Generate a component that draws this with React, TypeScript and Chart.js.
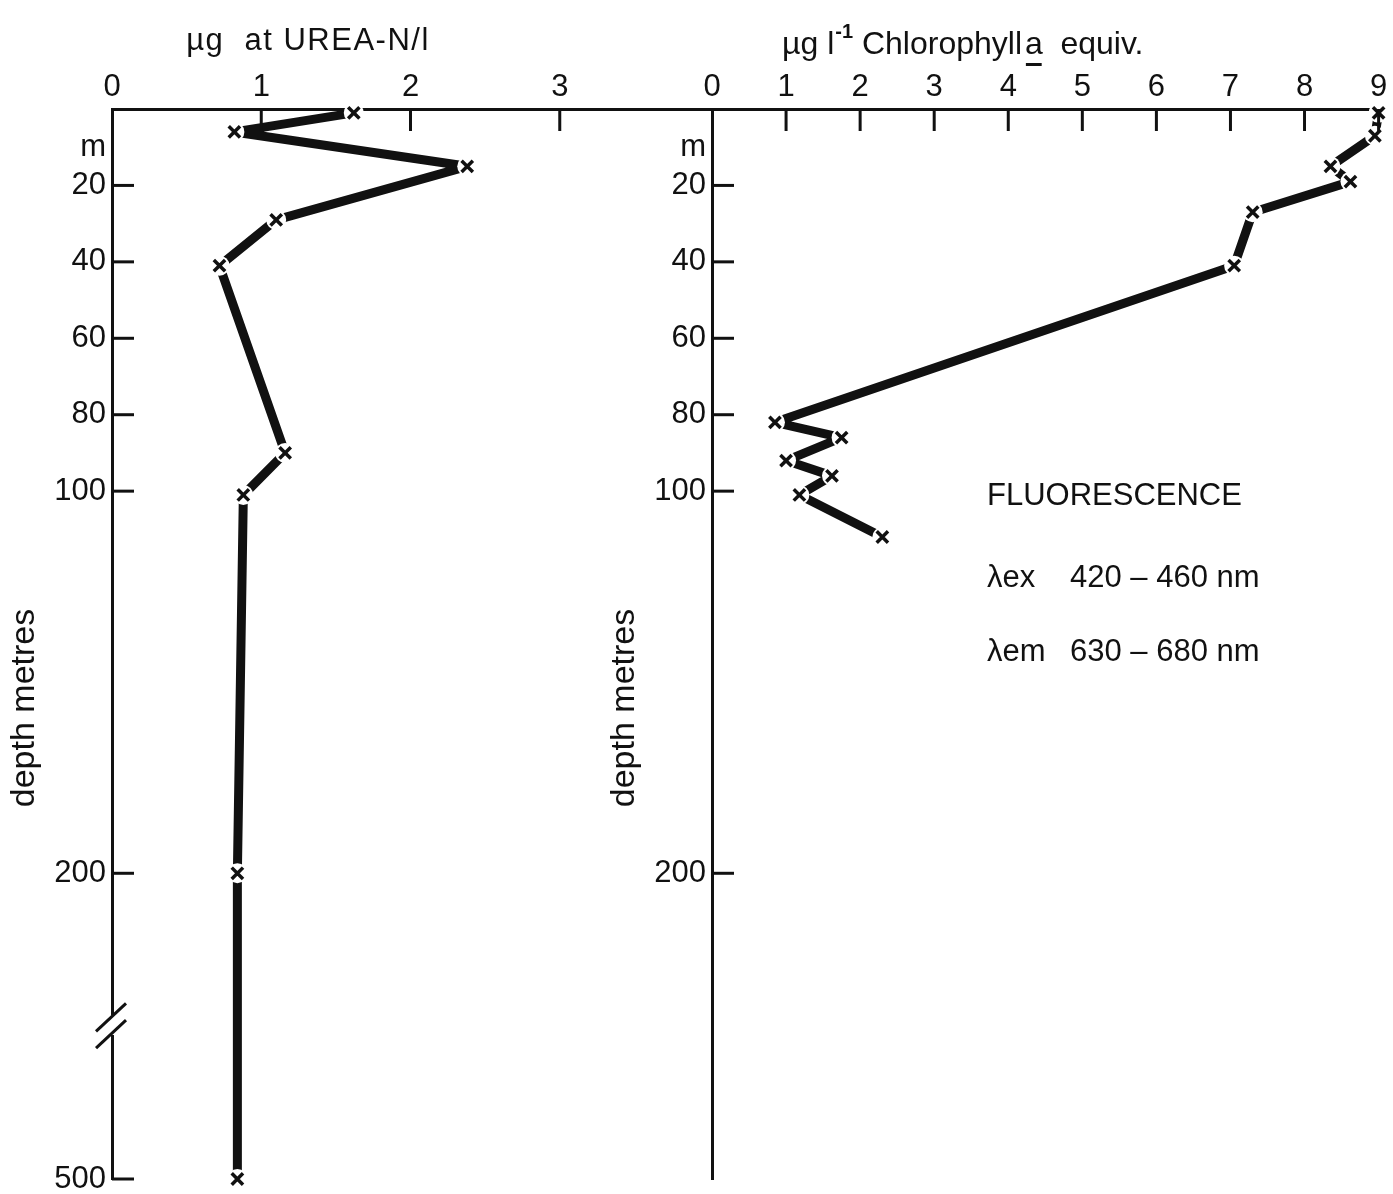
import React, { useEffect, useRef } from "react";
import { Chart, registerables } from "chart.js";

Chart.register(...registerables);

// ---------------- data ----------------
const UREA_DEPTHS = [1, 6, 15, 29, 41, 90, 101, 200, 500];
const UREA_VALUES = [1.62, 0.82, 2.38, 1.1, 0.72, 1.16, 0.88, 0.84, 0.84];

const CHL_DEPTHS = [1, 7, 15, 19, 27, 41, 82, 86, 92, 96, 101, 112];
const CHL_VALUES = [9.0, 8.95, 8.35, 8.62, 7.3, 7.05, 0.85, 1.75, 1.0, 1.62, 1.18, 2.3];

const UREA_X_TICKS = [0, 1, 2, 3];
const CHL_X_TICKS = [0, 1, 2, 3, 4, 5, 6, 7, 8, 9];

const UREA_DEPTH_TICKS = [10, 20, 40, 60, 80, 100, 200, 500];
const UREA_DEPTH_LABELS = ["m", "20", "40", "60", "80", "100", "200", "500"];
const CHL_DEPTH_TICKS = [10, 20, 40, 60, 80, 100, 200];
const CHL_DEPTH_LABELS = ["m", "20", "40", "60", "80", "100", "200"];

const UREA_TITLE = "µg  at UREA-N/l";
const CHL_TITLE_PARTS = ["µg l", "-1", " Chlorophyll ", "a", "  equiv."];
const DEPTH_TITLE = "depth metres";
const FLUOR_HEAD = "FLUORESCENCE";
const FLUOR_LABELS = ["λex", "λem"];
const FLUOR_RANGES = ["420 – 460 nm", "630 – 680 nm"];

// depth axis with a break: 240 m .. 500 m compressed
const BREAK_DEPTH = 240;
const DEEP_DEPTH = 500;
const DEEP_AXIS = 280;
const toAxis = (d: number) =>
  d <= BREAK_DEPTH ? d : BREAK_DEPTH + ((d - BREAK_DEPTH) * (DEEP_AXIS - BREAK_DEPTH)) / (DEEP_DEPTH - BREAK_DEPTH);

// ---------------- style ----------------
const INK = "#111111";
const FONT = "'Liberation Sans', Arial, Helvetica, sans-serif";
const TICK_LEN = 22;
const TOP = 109;
const LEFT = 112;

type Cfg = {
  values: number[];
  depths: number[];
  xMax: number;
  xTicks: number[];
  depthTicks: number[];
  depthLabels: string[];
  padRight: number;
  drawBreak: boolean;
  drawText: (ctx: CanvasRenderingContext2D, area: any) => void;
};

function decorPlugin(cfg: Cfg) {
  return {
    id: "decor",
    afterDraw(chart: any) {
      const ctx: CanvasRenderingContext2D = chart.ctx;
      const xs = chart.scales.x;
      const ys = chart.scales.y;
      const a = chart.chartArea;
      ctx.save();
      ctx.strokeStyle = INK;
      ctx.lineWidth = 3;
      ctx.lineCap = "butt";
      cfg.xTicks.forEach((v) => {
        if (v === 0) return;
        const px = xs.getPixelForValue(v);
        ctx.beginPath();
        ctx.moveTo(px, a.top);
        ctx.lineTo(px, a.top + TICK_LEN);
        ctx.stroke();
      });
      cfg.depthTicks.forEach((d, i) => {
        if (cfg.depthLabels[i] === "m") return;
        const py = ys.getPixelForValue(toAxis(d));
        ctx.beginPath();
        ctx.moveTo(a.left, py);
        ctx.lineTo(a.left + TICK_LEN, py);
        ctx.stroke();
      });
      if (cfg.drawBreak) {
        const g1 = ys.getPixelForValue(BREAK_DEPTH - 3);
        const g2 = ys.getPixelForValue(BREAK_DEPTH + 2.3);
        ctx.clearRect(a.left - 5, g1, 10, g2 - g1);
        const c1 = ys.getPixelForValue(BREAK_DEPTH - 2.3);
        const c2 = ys.getPixelForValue(BREAK_DEPTH + 2.1);
        [c1, c2].forEach((c) => {
          ctx.beginPath();
          ctx.moveTo(a.left - 16, c + 14);
          ctx.lineTo(a.left + 14, c - 14);
          ctx.stroke();
        });
      }
      ctx.fillStyle = INK;
      // depth title
      ctx.save();
      ctx.font = `34px ${FONT}`;
      ctx.textAlign = "center";
      ctx.textBaseline = "middle";
      ctx.translate(25, 708);
      ctx.rotate(-Math.PI / 2);
      ctx.fillText(DEPTH_TITLE, 0, 0);
      ctx.restore();
      cfg.drawText(ctx, a);
      ctx.restore();
    },
  };
}

function buildChart(canvas: HTMLCanvasElement, cfg: Cfg) {
  const pts = cfg.values.map((v, i) => ({ x: v, y: toAxis(cfg.depths[i]) }));
  const tickFont = { family: FONT, size: 31 };
  return new Chart(canvas, {
    type: "scatter",
    data: {
      datasets: [
        {
          data: pts,
          showLine: true,
          borderColor: INK,
          borderWidth: 9,
          pointRadius: 0,
          tension: 0,
          clip: false,
          order: 3,
          borderJoinStyle: "round",
          borderCapStyle: "butt",
        } as any,
        {
          data: pts,
          showLine: false,
          pointRadius: 10,
          pointStyle: "circle",
          pointBackgroundColor: "#ffffff",
          pointBorderWidth: 0,
          clip: false,
          order: 2,
        } as any,
        {
          data: pts,
          showLine: false,
          pointRadius: 8,
          pointStyle: "crossRot",
          pointBorderColor: INK,
          pointBackgroundColor: INK,
          pointBorderWidth: 3.5,
          clip: false,
          order: 1,
        } as any,
      ],
    },
    options: {
      animation: false,
      responsive: false,
      maintainAspectRatio: false,
      events: [],
      layout: { autoPadding: false, padding: { left: 0, top: 0, right: cfg.padRight, bottom: 15 } } as any,
      plugins: { legend: { display: false }, tooltip: { enabled: false }, title: { display: false } },
      scales: {
        x: {
          type: "linear",
          position: "top",
          min: 0,
          max: cfg.xMax,
          z: 1,
          afterBuildTicks: (s: any) => {
            s.ticks = cfg.xTicks.map((v) => ({ value: v }));
          },
          afterFit: (s: any) => {
            s.height = TOP;
            s.paddingLeft = 0;
            s.paddingRight = 0;
          },
          grid: { display: true, drawOnChartArea: false, drawTicks: false },
          border: { display: true, color: INK, width: 3 },
          ticks: {
            color: INK,
            font: tickFont,
            padding: 3,
            maxRotation: 0,
            autoSkip: false,
            callback: (v: any) => String(v),
          },
        },
        y: {
          type: "linear",
          position: "left",
          reverse: true,
          min: 0,
          max: DEEP_AXIS,
          z: 1,
          afterBuildTicks: (s: any) => {
            s.ticks = cfg.depthTicks.map((d) => ({ value: toAxis(d) }));
          },
          afterFit: (s: any) => {
            s.width = LEFT;
            s.paddingTop = 0;
            s.paddingBottom = 0;
          },
          grid: { display: true, drawOnChartArea: false, drawTicks: false },
          border: { display: true, color: INK, width: 3 },
          ticks: {
            color: INK,
            font: tickFont,
            padding: 6,
            autoSkip: false,
            callback: (v: any) => {
              const i = cfg.depthTicks.findIndex((d) => Math.abs(toAxis(d) - v) < 1e-6);
              return i >= 0 ? cfg.depthLabels[i] : "";
            },
          },
        },
      },
    } as any,
    plugins: [decorPlugin(cfg) as any],
  });
}

export default function App() {
  const leftRef = useRef<HTMLCanvasElement | null>(null);
  const rightRef = useRef<HTMLCanvasElement | null>(null);

  useEffect(() => {
    const left = buildChart(leftRef.current!, {
      values: UREA_VALUES,
      depths: UREA_DEPTHS,
      xMax: 4.02,
      xTicks: UREA_X_TICKS,
      depthTicks: UREA_DEPTH_TICKS,
      depthLabels: UREA_DEPTH_LABELS,
      padRight: 0,
      drawBreak: true,
      drawText: (ctx, a) => {
        ctx.font = `31px ${FONT}`;
        (ctx as any).letterSpacing = "1.5px";
        ctx.textAlign = "center";
        ctx.textBaseline = "middle";
        ctx.fillText(UREA_TITLE, a.left + 196, 41);
        (ctx as any).letterSpacing = "0px";
      },
    });
    const right = buildChart(rightRef.current!, {
      values: CHL_VALUES,
      depths: CHL_DEPTHS,
      xMax: 9.1,
      xTicks: CHL_X_TICKS,
      depthTicks: CHL_DEPTH_TICKS,
      depthLabels: CHL_DEPTH_LABELS,
      padRight: 7,
      drawBreak: false,
      drawText: (ctx, a) => {
        // title with superscript and underlined "a"
        ctx.textAlign = "left";
        ctx.textBaseline = "alphabetic";
        let x = a.left + 70;
        const base = 54;
        ctx.font = `32px ${FONT}`;
        ctx.fillText(CHL_TITLE_PARTS[0], x, base);
        x += ctx.measureText(CHL_TITLE_PARTS[0]).width + 1;
        ctx.font = `bold 20px ${FONT}`;
        ctx.fillText(CHL_TITLE_PARTS[1], x, base - 16);
        x += ctx.measureText(CHL_TITLE_PARTS[1]).width;
        ctx.font = `32px ${FONT}`;
        ctx.fillText(CHL_TITLE_PARTS[2], x, base);
        x += ctx.measureText(CHL_TITLE_PARTS[2]).width - 6;
        ctx.fillText(CHL_TITLE_PARTS[3], x, base);
        const aw = ctx.measureText(CHL_TITLE_PARTS[3]).width;
        ctx.fillRect(x + 1, base + 9, aw - 2, 3);
        x += aw;
        ctx.fillText(CHL_TITLE_PARTS[4], x, base);
        // fluorescence annotation
        const tx = a.left + 275;
        ctx.textBaseline = "middle";
        ctx.font = `31px ${FONT}`;
        ctx.fillText(FLUOR_HEAD, tx, 496);
        ctx.fillText(FLUOR_LABELS[0], tx, 578);
        ctx.fillText(FLUOR_RANGES[0], tx + 83, 578);
        ctx.fillText(FLUOR_LABELS[1], tx, 652);
        ctx.fillText(FLUOR_RANGES[1], tx + 83, 652);
      },
    });
    return () => {
      left.destroy();
      right.destroy();
    };
  }, []);

  return (
    <div
      style={{
        position: "absolute",
        left: 0,
        top: 0,
        width: 1393,
        height: 1194,
        background: "#ffffff",
        overflow: "hidden",
      }}
    >
      <canvas
        ref={leftRef}
        width={712}
        height={1194}
        style={{ position: "absolute", left: 0, top: 0, width: 712, height: 1194 }}
      />
      <canvas
        ref={rightRef}
        width={793}
        height={1194}
        style={{ position: "absolute", left: 600, top: 0, width: 793, height: 1194 }}
      />
    </div>
  );
}
